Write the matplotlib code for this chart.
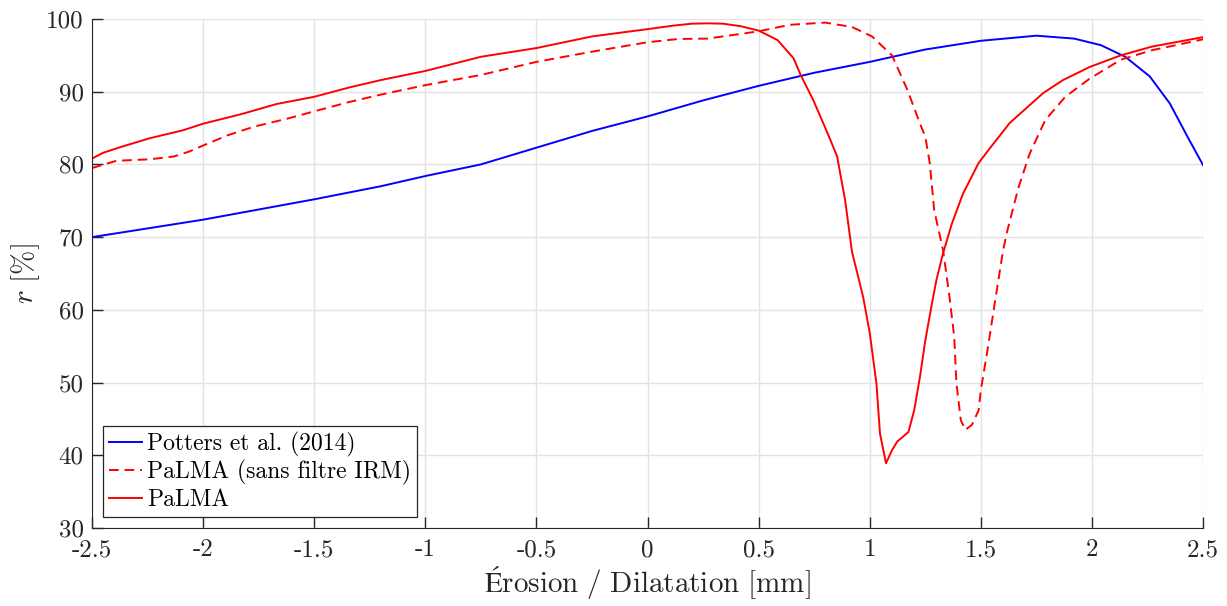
import matplotlib
matplotlib.use('Agg')
import matplotlib.pyplot as plt

plt.rcParams['font.family'] = ['cmr10', 'DejaVu Serif']
plt.rcParams['mathtext.fontset'] = 'cm'
plt.rcParams['axes.unicode_minus'] = False

# Potters et al. (2014)
x_potters = [-2.5, -2.0, -1.5, -1.2, -1.0, -0.75, -0.5, -0.25, 0.0, 0.25, 0.5, 0.75, 1.0,
             1.25, 1.5, 1.75, 1.92, 2.04, 2.15, 2.26, 2.35, 2.43, 2.5]
r_potters = [70.0, 72.4, 75.2, 77.0, 78.4, 80.0, 82.3, 84.6, 86.6, 88.8, 90.8, 92.6, 94.1,
             95.8, 97.0, 97.7, 97.3, 96.4, 94.8, 92.1, 88.4, 83.8, 79.9]

# PaLMA (sans filtre IRM)
x_nofilt = [-2.5, -2.39, -2.24, -2.13, -2.06, -2.0, -1.89, -1.77, -1.62, -1.5, -1.34, -1.2,
            -1.0, -0.75, -0.5, -0.25, 0.0, 0.14, 0.27, 0.5, 0.64, 0.8, 0.92, 1.01, 1.1,
            1.17, 1.225, 1.25, 1.27, 1.29, 1.33, 1.36, 1.38, 1.39, 1.41, 1.43, 1.46, 1.49,
            1.50, 1.53, 1.56, 1.60, 1.62, 1.67, 1.72, 1.79, 1.88, 1.99, 2.13, 2.27, 2.5]
r_nofilt = [79.5, 80.5, 80.7, 81.1, 81.8, 82.6, 84.0, 85.2, 86.3, 87.3, 88.6, 89.6,
            90.9, 92.3, 94.1, 95.5, 96.8, 97.25, 97.3, 98.3, 99.2, 99.5, 98.9, 97.6, 95.0,
            90.2, 85.7, 83.8, 80.2, 73.7, 68.2, 61.5, 56.3, 49.9, 44.8, 43.5, 44.2, 46.2,
            49.0, 54.5, 60.4, 68.2, 71.0, 76.9, 81.5, 86.1, 89.3, 91.8, 94.4, 95.7, 97.2]

# PaLMA
x_palma = [-2.5, -2.45, -2.37, -2.24, -2.09, -2.0, -1.83, -1.67, -1.5, -1.34, -1.2, -1.0,
           -0.75, -0.5, -0.25, 0.0, 0.12, 0.2, 0.27, 0.34, 0.42, 0.5, 0.585, 0.657, 0.692,
           0.745, 0.817, 0.853, 0.889, 0.92, 0.97, 1.0, 1.03, 1.046, 1.073, 1.1, 1.124,
           1.174, 1.2, 1.226, 1.25, 1.28, 1.30, 1.33, 1.37, 1.42, 1.49, 1.545, 1.63, 1.78,
           1.87, 1.99, 2.13, 2.27, 2.5]
r_palma = [80.8, 81.6, 82.4, 83.6, 84.7, 85.6, 86.9, 88.3, 89.3, 90.6, 91.6, 92.85,
           94.8, 96.0, 97.6, 98.6, 99.1, 99.35, 99.4, 99.35, 99.0, 98.4, 97.1, 94.6, 92.1,
           88.9, 83.8, 81.1, 75.1, 68.0, 61.8, 56.8, 49.9, 43.0, 38.9, 40.7, 41.9,
           43.2, 46.2, 50.8, 55.8, 60.9, 64.1, 67.8, 71.9, 76.0, 80.2, 82.4, 85.7, 89.8,
           91.6, 93.4, 95.0, 96.2, 97.5]

xticks = [-2.5, -2, -1.5, -1, -0.5, 0, 0.5, 1, 1.5, 2, 2.5]
xticklabels = ['-2.5', '-2', '-1.5', '-1', '-0.5', '0', '0.5', '1', '1.5', '2', '2.5']
yticks = [30, 40, 50, 60, 70, 80, 90, 100]

fig = plt.figure(figsize=(12.27, 6.06), dpi=100)
ax = fig.add_axes([0.075, 0.1287, 0.9055, 0.84])

ax.plot(x_potters, r_potters, color='#0000ff', lw=1.4, label='Potters et al. (2014)')
ax.plot(x_nofilt, r_nofilt, color='#ff0000', lw=1.4, ls=(0, (5, 3)), label='PaLMA (sans filtre IRM)')
ax.plot(x_palma, r_palma, color='#ff0000', lw=1.4, label='PaLMA')

ax.set_xlim(-2.5, 2.5)
ax.set_ylim(30, 100)
ax.set_xticks(xticks)
ax.set_xticklabels(xticklabels)
ax.set_yticks(yticks)
ax.tick_params(direction='in', length=8, width=1, colors='#262626', labelsize=18)
ax.tick_params(axis='x', pad=8)
ax.tick_params(axis='y', pad=6)
for lab in ax.get_xticklabels() + ax.get_yticklabels():
    lab.set_color('#262626')
ax.grid(True, color='#e3e3e3', lw=1)
ax.set_axisbelow(True)
ax.spines['top'].set_visible(False)
ax.spines['right'].set_visible(False)
ax.spines['left'].set_color('#262626')
ax.spines['bottom'].set_color('#262626')

ax.set_xlabel('$\\mathrm{\u00c9rosion\\ /\\ Dilatation\\ [mm]}$', fontsize=21, color='#262626', labelpad=2)
ax.set_ylabel(r'$r\ \mathrm{[\%]}$', fontsize=21, color='#262626', labelpad=3)

leg = ax.legend(loc='lower left', bbox_to_anchor=(0.01, 0.022), fontsize=17, fancybox=False,
                framealpha=1, edgecolor='#262626', handlelength=1.4, handletextpad=0.2,
                borderpad=0.25, labelspacing=0.15, borderaxespad=0)
leg.get_frame().set_linewidth(0.9)

fig.savefig('out.png', dpi=100)
